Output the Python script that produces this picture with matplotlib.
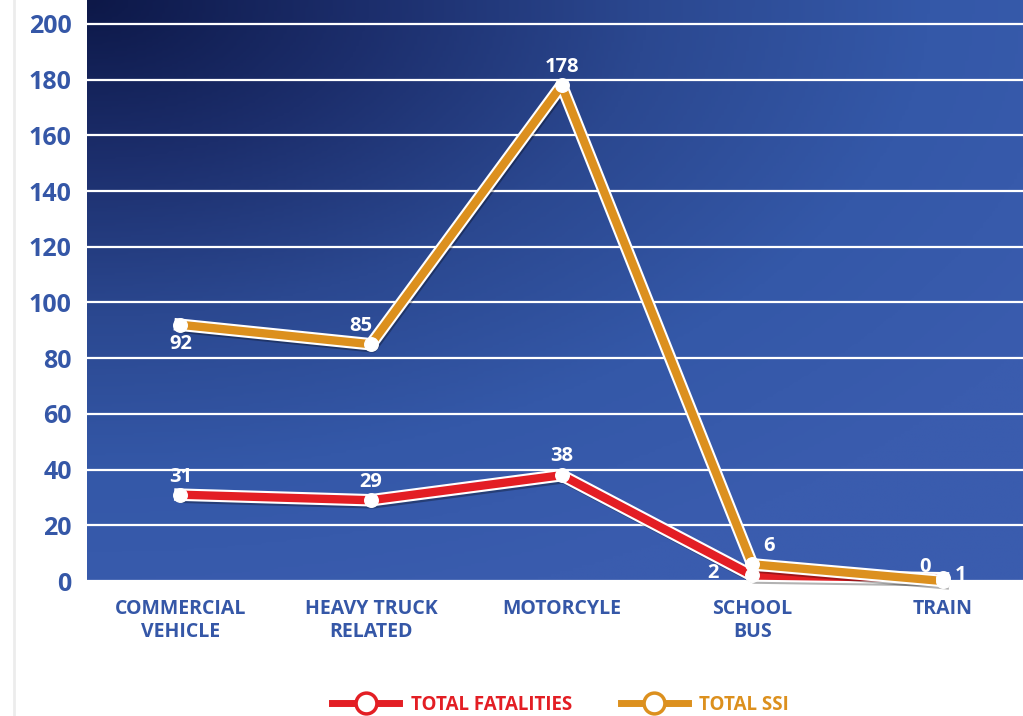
import numpy as np
import matplotlib.pyplot as plt
import matplotlib.patheffects as pe
from matplotlib.colors import LinearSegmentedColormap
from matplotlib.lines import Line2D

categories = ["COMMERCIAL\nVEHICLE", "HEAVY TRUCK\nRELATED", "MOTORCYLE", "SCHOOL\nBUS", "TRAIN"]
fatalities = [31, 29, 38, 2, 1]
ssi = [92, 85, 178, 6, 0]
fat_labels = ["31", "29", "38", "2", "1"]
ssi_labels = ["92", "85", "178", "6", "0"]

TICK_BLUE = "#3557a7"
RED = "#e31e24"
ORANGE = "#dc901e"

plt.rcParams['font.family'] = ['Open Sans', 'DejaVu Sans']


def main():
    fig = plt.figure(figsize=(10.23, 7.16), dpi=100)
    fig.patch.set_facecolor("white")
    ax = fig.add_axes([0.085, 0.1885, 0.915, 0.8115])

    xs = np.arange(len(categories))
    ax.set_xlim(-0.49, 4.42)
    ax.set_ylim(0, 208.6)

    # gradient background: dark navy top-left -> brighter blue
    cmap = LinearSegmentedColormap.from_list(
        "bg", ["#0d1848", "#1c2e6c", "#2b4890", "#3458a8", "#3a5cae"])
    gx, gy = np.meshgrid(np.linspace(0, 1, 300), np.linspace(1, 0, 200))
    t = np.clip(np.sqrt((gx * 1.0) ** 2 + ((1 - gy) * 1.1) ** 2) / 1.2, 0, 1)
    ax.imshow(t, cmap=cmap, extent=[-0.49, 4.42, 0, 208.6], aspect="auto",
              origin="upper", zorder=0)

    ax.set_yticks(np.arange(0, 201, 20))
    ax.grid(axis="y", color="white", linewidth=1.6, zorder=1)
    ax.set_axisbelow(False)
    for s in ax.spines.values():
        s.set_visible(False)
    ax.tick_params(length=0)
    ax.set_xticks(xs)
    ax.set_xticklabels(categories, color=TICK_BLUE, fontsize=14, fontweight="bold",
                       linespacing=1.2)
    ax.tick_params(axis="x", pad=13)
    ax.tick_params(axis="y", pad=11)
    for lab in ax.get_yticklabels():
        lab.set_color(TICK_BLUE)
        lab.set_fontsize(18)
        lab.set_fontweight("bold")

    effects = [pe.SimpleLineShadow(offset=(1.5, -3), shadow_color="black", alpha=0.3, rho=0.3),
               pe.Stroke(linewidth=9, foreground="white"), pe.Normal()]
    ax.plot(xs, fatalities, color=RED, linewidth=6, zorder=4, clip_on=False,
            path_effects=effects, solid_joinstyle="round")
    ax.plot(xs, ssi, color=ORANGE, linewidth=6, zorder=5, clip_on=False,
            path_effects=effects, solid_joinstyle="round")
    ax.scatter(xs, fatalities, s=95, color="white", zorder=6, clip_on=False)
    ax.scatter(xs, ssi, s=95, color="white", zorder=6, clip_on=False)

    lab_kw = dict(color="white", fontsize=14.5, fontweight="bold", zorder=7,
                  annotation_clip=False)
    fat_off = [(0, 13), (0, 13), (0, 14), (-28, 2), (13, 2)]
    ssi_off = [(0, -14), (-7, 13), (0, 13), (12, 13), (-13, 10)]
    for x, y, s, o in zip(xs, fatalities, fat_labels, fat_off):
        a = ax.annotate(s, (x, y), xytext=o, textcoords="offset points",
                        ha="center", va="center", **lab_kw)
        a.set_clip_on(False)
    for x, y, s, o in zip(xs, ssi, ssi_labels, ssi_off):
        a = ax.annotate(s, (x, y), xytext=o, textcoords="offset points",
                        ha="center", va="center", **lab_kw)
        a.set_clip_on(False)

    # faint page edge on the left
    fig.add_artist(Line2D([0.014, 0.014], [0, 1], color="#ececec", linewidth=2))

    handles = [
        Line2D([], [], color=RED, linewidth=5, marker="o", markersize=15,
               markerfacecolor="white", markeredgecolor=RED, markeredgewidth=2.5),
        Line2D([], [], color=ORANGE, linewidth=5, marker="o", markersize=15,
               markerfacecolor="white", markeredgecolor=ORANGE, markeredgewidth=2.5),
    ]
    leg = fig.legend(handles, ["TOTAL FATALITIES", "TOTAL SSI"], loc="center",
                     bbox_to_anchor=(0.548, 0.016), ncol=2, frameon=False,
                     handlelength=3.6, columnspacing=2.6, handletextpad=0.6,
                     prop={"weight": "bold", "size": 13.5})
    for txt, c in zip(leg.get_texts(), [RED, ORANGE]):
        txt.set_color(c)

    fig.savefig("out.png", dpi=100)
    plt.close(fig)


if __name__ == "__main__":
    main()
